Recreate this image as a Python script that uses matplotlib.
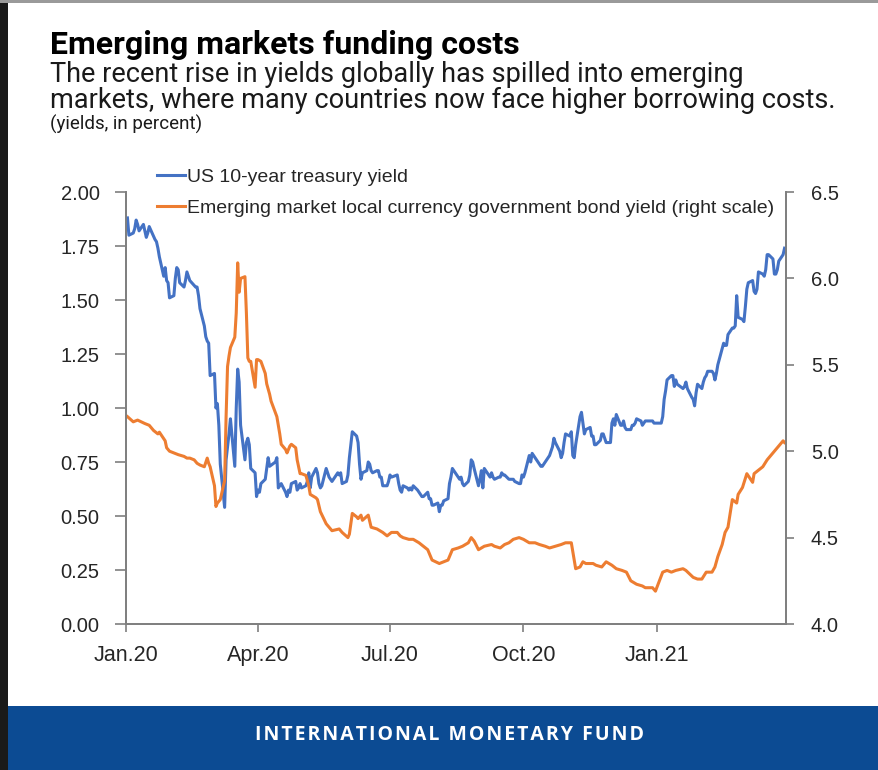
import pandas as pd
import matplotlib
matplotlib.use('Agg')
import matplotlib.pyplot as plt
import matplotlib.dates as mdates
from matplotlib.patches import Rectangle

# US 10-year treasury yield (left scale)
us_dates = [
    '2020-01-02', '2020-01-03', '2020-01-06', '2020-01-07', '2020-01-08', '2020-01-09', '2020-01-10',
    '2020-01-13', '2020-01-14', '2020-01-15', '2020-01-16', '2020-01-17', '2020-01-21', '2020-01-22',
    '2020-01-23', '2020-01-24', '2020-01-27', '2020-01-28', '2020-01-29', '2020-01-30', '2020-01-31',
    '2020-02-03', '2020-02-04', '2020-02-05', '2020-02-06', '2020-02-07', '2020-02-10', '2020-02-11',
    '2020-02-12', '2020-02-13', '2020-02-14', '2020-02-18', '2020-02-19', '2020-02-20', '2020-02-21',
    '2020-02-24', '2020-02-25', '2020-02-26', '2020-02-27', '2020-02-28', '2020-03-02', '2020-03-03',
    '2020-03-04', '2020-03-05', '2020-03-06', '2020-03-09', '2020-03-10', '2020-03-11', '2020-03-12',
    '2020-03-13', '2020-03-16', '2020-03-17', '2020-03-18', '2020-03-19', '2020-03-20', '2020-03-23',
    '2020-03-24', '2020-03-25', '2020-03-26', '2020-03-27', '2020-03-30', '2020-03-31', '2020-04-01',
    '2020-04-02', '2020-04-03', '2020-04-06', '2020-04-07', '2020-04-08', '2020-04-09', '2020-04-13',
    '2020-04-14', '2020-04-15', '2020-04-16', '2020-04-17', '2020-04-20', '2020-04-21', '2020-04-22',
    '2020-04-23', '2020-04-24', '2020-04-27', '2020-04-28', '2020-04-29', '2020-04-30', '2020-05-01',
    '2020-05-04', '2020-05-05', '2020-05-06', '2020-05-07', '2020-05-08', '2020-05-11', '2020-05-12',
    '2020-05-13', '2020-05-14', '2020-05-15', '2020-05-18', '2020-05-19', '2020-05-20', '2020-05-21',
    '2020-05-22', '2020-05-26', '2020-05-27', '2020-05-28', '2020-05-29', '2020-06-01', '2020-06-02',
    '2020-06-03', '2020-06-04', '2020-06-05', '2020-06-08', '2020-06-09', '2020-06-10', '2020-06-11',
    '2020-06-12', '2020-06-15', '2020-06-16', '2020-06-17', '2020-06-18', '2020-06-19', '2020-06-22',
    '2020-06-23', '2020-06-24', '2020-06-25', '2020-06-26', '2020-06-29', '2020-06-30', '2020-07-01',
    '2020-07-02', '2020-07-06', '2020-07-07', '2020-07-08', '2020-07-09', '2020-07-10', '2020-07-13',
    '2020-07-14', '2020-07-15', '2020-07-16', '2020-07-17', '2020-07-20', '2020-07-21', '2020-07-22',
    '2020-07-23', '2020-07-24', '2020-07-27', '2020-07-28', '2020-07-29', '2020-07-30', '2020-07-31',
    '2020-08-03', '2020-08-04', '2020-08-05', '2020-08-06', '2020-08-07', '2020-08-10', '2020-08-11',
    '2020-08-12', '2020-08-13', '2020-08-14', '2020-08-17', '2020-08-18', '2020-08-19', '2020-08-20',
    '2020-08-21', '2020-08-24', '2020-08-25', '2020-08-26', '2020-08-27', '2020-08-28', '2020-08-31',
    '2020-09-01', '2020-09-02', '2020-09-03', '2020-09-04', '2020-09-08', '2020-09-09', '2020-09-10',
    '2020-09-11', '2020-09-14', '2020-09-15', '2020-09-16', '2020-09-17', '2020-09-18', '2020-09-21',
    '2020-09-22', '2020-09-23', '2020-09-24', '2020-09-25', '2020-09-28', '2020-09-29', '2020-09-30',
    '2020-10-01', '2020-10-02', '2020-10-05', '2020-10-06', '2020-10-07', '2020-10-08', '2020-10-09',
    '2020-10-13', '2020-10-14', '2020-10-15', '2020-10-16', '2020-10-19', '2020-10-20', '2020-10-21',
    '2020-10-22', '2020-10-23', '2020-10-26', '2020-10-27', '2020-10-28', '2020-10-29', '2020-10-30',
    '2020-11-02', '2020-11-03', '2020-11-04', '2020-11-05', '2020-11-06', '2020-11-09', '2020-11-10',
    '2020-11-12', '2020-11-13', '2020-11-16', '2020-11-17', '2020-11-18', '2020-11-19', '2020-11-20',
    '2020-11-23', '2020-11-24', '2020-11-25', '2020-11-27', '2020-11-30', '2020-12-01', '2020-12-02',
    '2020-12-03', '2020-12-04', '2020-12-07', '2020-12-08', '2020-12-09', '2020-12-10', '2020-12-11',
    '2020-12-14', '2020-12-15', '2020-12-16', '2020-12-17', '2020-12-18', '2020-12-21', '2020-12-22',
    '2020-12-23', '2020-12-24', '2020-12-28', '2020-12-29', '2020-12-30', '2020-12-31', '2021-01-04',
    '2021-01-05', '2021-01-06', '2021-01-07', '2021-01-08', '2021-01-11', '2021-01-12', '2021-01-13',
    '2021-01-14', '2021-01-15', '2021-01-19', '2021-01-20', '2021-01-21', '2021-01-22', '2021-01-25',
    '2021-01-26', '2021-01-27', '2021-01-28', '2021-01-29', '2021-02-01', '2021-02-02', '2021-02-03',
    '2021-02-04', '2021-02-05', '2021-02-08', '2021-02-09', '2021-02-10', '2021-02-11', '2021-02-12',
    '2021-02-16', '2021-02-17', '2021-02-18', '2021-02-19', '2021-02-22', '2021-02-23', '2021-02-24',
    '2021-02-25', '2021-02-26', '2021-03-01', '2021-03-02', '2021-03-03', '2021-03-04', '2021-03-05',
    '2021-03-08', '2021-03-09', '2021-03-10', '2021-03-11', '2021-03-12', '2021-03-15', '2021-03-16',
    '2021-03-17', '2021-03-18', '2021-03-19', '2021-03-22', '2021-03-23', '2021-03-24', '2021-03-25',
    '2021-03-26', '2021-03-29', '2021-03-30',
]
us_yield = [
    1.88, 1.80, 1.81, 1.83, 1.87, 1.85, 1.82,
    1.85, 1.82, 1.79, 1.81, 1.84, 1.78, 1.77,
    1.74, 1.70, 1.61, 1.65, 1.59, 1.58, 1.51,
    1.52, 1.60, 1.65, 1.64, 1.58, 1.56, 1.59,
    1.63, 1.61, 1.59, 1.56, 1.56, 1.52, 1.46,
    1.38, 1.33, 1.31, 1.30, 1.15, 1.16, 1.00,
    1.02, 0.92, 0.74, 0.54, 0.76, 0.82, 0.88,
    0.95, 0.73, 1.00, 1.18, 1.12, 0.92, 0.76,
    0.84, 0.86, 0.83, 0.72, 0.70, 0.59, 0.62,
    0.61, 0.65, 0.67, 0.72, 0.77, 0.73, 0.75,
    0.77, 0.63, 0.64, 0.65, 0.61, 0.59, 0.62,
    0.61, 0.65, 0.66, 0.62, 0.63, 0.65, 0.63,
    0.64, 0.66, 0.70, 0.63, 0.68, 0.72, 0.70,
    0.65, 0.63, 0.64, 0.72, 0.70, 0.68, 0.67,
    0.66, 0.70, 0.69, 0.70, 0.65, 0.66, 0.69,
    0.77, 0.83, 0.89, 0.87, 0.84, 0.74, 0.67,
    0.70, 0.71, 0.75, 0.74, 0.71, 0.70, 0.71,
    0.71, 0.68, 0.68, 0.64, 0.64, 0.66, 0.69,
    0.68, 0.69, 0.65, 0.62, 0.61, 0.64, 0.63,
    0.62, 0.63, 0.62, 0.64, 0.62, 0.61, 0.60,
    0.59, 0.59, 0.61, 0.58, 0.58, 0.55, 0.55,
    0.56, 0.52, 0.55, 0.55, 0.57, 0.58, 0.65,
    0.68, 0.72, 0.71, 0.68, 0.67, 0.68, 0.65,
    0.64, 0.66, 0.69, 0.76, 0.75, 0.72, 0.64,
    0.67, 0.71, 0.63, 0.72, 0.68, 0.70, 0.68,
    0.67, 0.68, 0.68, 0.70, 0.69, 0.69, 0.67,
    0.67, 0.67, 0.67, 0.66, 0.65, 0.65, 0.69,
    0.68, 0.70, 0.78, 0.75, 0.79, 0.78, 0.77,
    0.73, 0.73, 0.74, 0.75, 0.78, 0.80, 0.82,
    0.86, 0.84, 0.80, 0.77, 0.79, 0.84, 0.88,
    0.87, 0.89, 0.78, 0.77, 0.83, 0.96, 0.98,
    0.88, 0.90, 0.91, 0.87, 0.87, 0.83, 0.83,
    0.85, 0.88, 0.88, 0.84, 0.84, 0.93, 0.95,
    0.92, 0.97, 0.92, 0.92, 0.94, 0.91, 0.90,
    0.90, 0.92, 0.92, 0.93, 0.95, 0.94, 0.92,
    0.93, 0.94, 0.94, 0.94, 0.93, 0.93, 0.93,
    0.96, 1.04, 1.08, 1.13, 1.15, 1.15, 1.10,
    1.13, 1.11, 1.09, 1.10, 1.12, 1.09, 1.05,
    1.04, 1.01, 1.07, 1.11, 1.09, 1.12, 1.14,
    1.15, 1.17, 1.17, 1.16, 1.13, 1.16, 1.20,
    1.30, 1.29, 1.29, 1.34, 1.37, 1.37, 1.38,
    1.52, 1.42, 1.41, 1.40, 1.47, 1.55, 1.58,
    1.59, 1.54, 1.53, 1.55, 1.63, 1.62, 1.61,
    1.64, 1.71, 1.71, 1.69, 1.62, 1.62, 1.64,
    1.68, 1.71, 1.74,
]

# Emerging market local currency government bond yield (right scale)
em_dates = [
    '2020-01-02', '2020-01-06', '2020-01-09', '2020-01-14', '2020-01-17', '2020-01-20', '2020-01-23',
    '2020-01-24', '2020-01-28', '2020-01-29', '2020-01-31', '2020-02-03', '2020-02-06', '2020-02-10',
    '2020-02-12', '2020-02-14', '2020-02-17', '2020-02-19', '2020-02-21', '2020-02-24', '2020-02-26',
    '2020-02-27', '2020-02-28', '2020-03-02', '2020-03-03', '2020-03-04', '2020-03-06', '2020-03-09',
    '2020-03-10', '2020-03-11', '2020-03-12', '2020-03-13', '2020-03-16', '2020-03-17', '2020-03-18',
    '2020-03-19', '2020-03-20', '2020-03-23', '2020-03-24', '2020-03-25', '2020-03-26', '2020-03-27',
    '2020-03-30', '2020-03-31', '2020-04-01', '2020-04-03', '2020-04-06', '2020-04-07', '2020-04-09',
    '2020-04-10', '2020-04-14', '2020-04-16', '2020-04-17', '2020-04-20', '2020-04-21', '2020-04-23',
    '2020-04-24', '2020-04-27', '2020-04-28', '2020-04-30', '2020-05-01', '2020-05-04', '2020-05-06',
    '2020-05-07', '2020-05-11', '2020-05-12', '2020-05-14', '2020-05-18', '2020-05-20', '2020-05-22',
    '2020-05-27', '2020-05-29', '2020-06-02', '2020-06-03', '2020-06-05', '2020-06-08', '2020-06-09',
    '2020-06-11', '2020-06-12', '2020-06-16', '2020-06-18', '2020-06-22', '2020-06-24', '2020-06-26',
    '2020-06-29', '2020-07-02', '2020-07-06', '2020-07-08', '2020-07-10', '2020-07-14', '2020-07-17',
    '2020-07-21', '2020-07-24', '2020-07-27', '2020-07-30', '2020-08-04', '2020-08-07', '2020-08-10',
    '2020-08-13', '2020-08-17', '2020-08-20', '2020-08-24', '2020-08-26', '2020-08-28', '2020-08-31',
    '2020-09-04', '2020-09-09', '2020-09-11', '2020-09-15', '2020-09-18', '2020-09-21', '2020-09-24',
    '2020-09-28', '2020-10-01', '2020-10-05', '2020-10-09', '2020-10-12', '2020-10-16', '2020-10-19',
    '2020-10-23', '2020-10-27', '2020-10-30', '2020-11-03', '2020-11-05', '2020-11-06', '2020-11-09',
    '2020-11-11', '2020-11-13', '2020-11-18', '2020-11-20', '2020-11-24', '2020-11-27', '2020-12-01',
    '2020-12-04', '2020-12-08', '2020-12-11', '2020-12-14', '2020-12-18', '2020-12-22', '2020-12-24',
    '2020-12-29', '2020-12-31', '2021-01-05', '2021-01-08', '2021-01-11', '2021-01-14', '2021-01-19',
    '2021-01-21', '2021-01-26', '2021-01-29', '2021-02-01', '2021-02-04', '2021-02-08', '2021-02-10',
    '2021-02-12', '2021-02-15', '2021-02-17', '2021-02-19', '2021-02-22', '2021-02-25', '2021-02-26',
    '2021-03-01', '2021-03-04', '2021-03-08', '2021-03-09', '2021-03-12', '2021-03-15', '2021-03-18',
    '2021-03-22', '2021-03-25', '2021-03-29', '2021-03-30',
]
em_yield = [
    5.20, 5.17, 5.18, 5.16, 5.15, 5.12, 5.10,
    5.11, 5.06, 5.02, 5.00, 4.99, 4.98, 4.97,
    4.96, 4.96, 4.95, 4.93, 4.92, 4.91, 4.96,
    4.93, 4.91, 4.80, 4.68, 4.70, 4.72, 4.83,
    5.20, 5.49, 5.55, 5.60, 5.66, 5.80, 6.09,
    5.92, 6.00, 6.01, 5.80, 5.54, 5.52, 5.52,
    5.37, 5.53, 5.53, 5.52, 5.45, 5.39, 5.33,
    5.29, 5.20, 5.10, 5.04, 5.01, 4.99, 5.03,
    5.04, 5.02, 4.95, 4.87, 4.87, 4.86, 4.80,
    4.75, 4.73, 4.72, 4.65, 4.58, 4.56, 4.54,
    4.55, 4.53, 4.50, 4.52, 4.64, 4.62, 4.61,
    4.63, 4.60, 4.63, 4.56, 4.55, 4.54, 4.53,
    4.51, 4.53, 4.53, 4.51, 4.50, 4.49, 4.49,
    4.47, 4.45, 4.43, 4.37, 4.35, 4.36, 4.37,
    4.43, 4.44, 4.45, 4.47, 4.50, 4.48, 4.43,
    4.45, 4.46, 4.45, 4.44, 4.46, 4.47, 4.49,
    4.50, 4.49, 4.47, 4.47, 4.46, 4.45, 4.44,
    4.45, 4.46, 4.47, 4.47, 4.37, 4.32, 4.33,
    4.36, 4.35, 4.35, 4.34, 4.33, 4.36, 4.34,
    4.32, 4.31, 4.30, 4.25, 4.23, 4.22, 4.21,
    4.21, 4.19, 4.30, 4.31, 4.30, 4.31, 4.32,
    4.31, 4.27, 4.26, 4.26, 4.30, 4.30, 4.33,
    4.39, 4.46, 4.53, 4.56, 4.72, 4.70, 4.75,
    4.79, 4.87, 4.82, 4.87, 4.89, 4.91, 4.95,
    4.99, 5.02, 5.06, 5.05,
]

left_ticks = [0.00, 0.25, 0.50, 0.75, 1.00, 1.25, 1.50, 1.75, 2.00]
right_ticks = [4.0, 4.5, 5.0, 5.5, 6.0, 6.5]

us_label = 'US 10-year treasury yield'
em_label = 'Emerging market local currency government bond yield (right scale)'
footer = 'INTERNATIONAL MONETARY FUND'

BLUE = '#4472C4'
ORANGE = '#ED7D31'
AXIS_GREY = '#7f7f7f'
TEXT = '#262626'

fig = plt.figure(figsize=(8.79, 7.7), dpi=100)

# frame of the screenshot
fig.patches.append(Rectangle((0, 0), 8 / 879, 1, transform=fig.transFigure,
                             facecolor='#1a1a1a', edgecolor='none'))
fig.patches.append(Rectangle((0, 1 - 3 / 770), 1, 3 / 770, transform=fig.transFigure,
                             facecolor='#9a9a9a', edgecolor='none'))
# IMF footer band
fig.patches.append(Rectangle((8 / 879, 0), 1, 64 / 770, transform=fig.transFigure,
                             facecolor='#0c4b93', edgecolor='none'))
# a little letter spacing with hair spaces
spaced = '\u200a'.join(footer)
fig.text(0.511, 0.045, spaced, color='white', fontsize=14, fontweight='bold',
         family=['Open Sans', 'DejaVu Sans'], ha='center', va='center')

# titles
fig.text(50 / 879, 1 - 45 / 770, 'Emerging markets funding costs', fontsize=23,
         fontweight='bold', family='Roboto', color='black', va='center')
fig.text(50 / 879, 1 - 75 / 770, 'The recent rise in yields globally has spilled into emerging',
         fontsize=19.5, family='Roboto', color='#1a1a1a', va='center')
fig.text(50 / 879, 1 - 100 / 770, 'markets, where many countries now face higher borrowing costs.',
         fontsize=19.5, family='Roboto', color='#1a1a1a', va='center')
fig.text(50 / 879, 1 - 124 / 770, '(yields, in percent)', fontsize=13.5, family='Roboto',
         color='#1a1a1a', va='center')

ax = fig.add_axes([126 / 879, 1 - 624 / 770, 660 / 879, 432 / 770])
ax2 = ax.twinx()

us_x = pd.to_datetime(us_dates)
em_x = pd.to_datetime(em_dates)

l1, = ax.plot(us_x, us_yield, color=BLUE, lw=2.2, label=us_label, zorder=3)
l2, = ax2.plot(em_x, em_yield, color=ORANGE, lw=2.2, label=em_label, zorder=2)

ax.set_xlim(pd.Timestamp('2020-01-01'), pd.Timestamp('2021-03-31'))
ax.set_ylim(0, 2)
ax2.set_ylim(4, 6.5)
ax.set_yticks(left_ticks)
ax.set_yticklabels([f'{v:.2f}' for v in left_ticks])
ax2.set_yticks(right_ticks)
ax2.set_yticklabels([f'{v:.1f}' for v in right_ticks])

ax.xaxis.set_major_locator(mdates.MonthLocator(bymonth=[1, 4, 7, 10]))
ax.xaxis.set_major_formatter(mdates.DateFormatter('%b.%y'))

for a in (ax, ax2):
    a.spines['top'].set_visible(False)
    for s in ('left', 'right', 'bottom'):
        a.spines[s].set_color(AXIS_GREY)
        a.spines[s].set_linewidth(1.3)
    a.patch.set_visible(False)

ax.tick_params(axis='y', direction='out', length=8, width=1.2, color=AXIS_GREY,
               labelsize=14.5, labelcolor=TEXT, pad=11)
ax.tick_params(axis='x', direction='out', length=6, width=1.2, color=AXIS_GREY,
               labelsize=15.5, labelcolor=TEXT, pad=9)
ax2.tick_params(axis='y', direction='out', length=6, width=1.2, color=AXIS_GREY,
                labelsize=14.5, labelcolor=TEXT, pad=12)
for lab in ax.get_xticklabels() + ax.get_yticklabels() + ax2.get_yticklabels():
    lab.set_family('Liberation Sans')

fig.legend(handles=[l1, l2], loc='upper left', bbox_to_anchor=(157 / 879, 1 - 168 / 770),
           frameon=False, prop={'family': 'Liberation Sans', 'size': 14},
           handlelength=1.45, handletextpad=0.1, borderpad=0, borderaxespad=0,
           labelspacing=0.7, labelcolor=TEXT)

fig.savefig('out.png', dpi=100)
